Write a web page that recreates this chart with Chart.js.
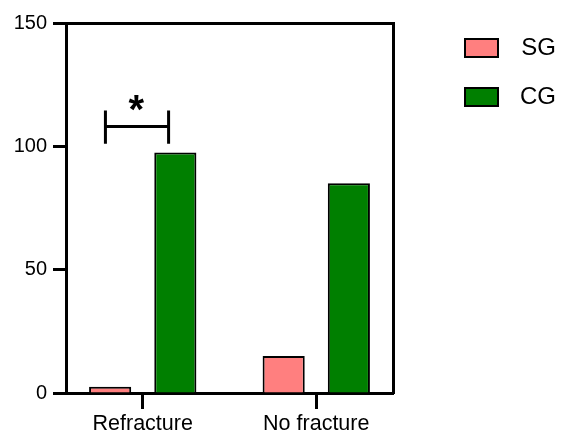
<!DOCTYPE html>
<html><head><meta charset="utf-8">
<script src="https://cdn.jsdelivr.net/npm/chart.js@4.4.1/dist/chart.umd.min.js"></script>
<style>html,body{margin:0;padding:0;background:#fff}#wrap{width:561px;height:436px}</style>
</head><body><div id="wrap"><canvas id="c" width="561" height="436"></canvas></div>
<script>
const categories = ['Refracture', 'No fracture'];
const categoryPositions = [0, 1];
const seriesNames = ['SG', 'CG'];
const sgValues = [2.5, 15];
const cgValues = [97.5, 85];
const yTicks = [0, 50, 100, 150];
// significance bracket (Refracture: SG vs CG)
const bracketX = [-0.215, 0.149];
const bracketY = 108;
const bracketCapY = [101, 114.5];
const starLabel = '*';
const starPos = [-0.037, 117.5];

const FONT = "'Liberation Sans', Arial, Helvetica, sans-serif";
Chart.defaults.font.family = FONT;
Chart.defaults.color = '#000';

const sigPlugin = {
  id: 'sig',
  afterDatasetsDraw(chart) {
    const {ctx} = chart;
    const x = chart.scales.x, y = chart.scales.y;
    const x1 = x.getPixelForValue(bracketX[0]), x2 = x.getPixelForValue(bracketX[1]);
    const yl = y.getPixelForValue(bracketY);
    const yt = y.getPixelForValue(bracketCapY[1]), yb = y.getPixelForValue(bracketCapY[0]);
    ctx.save();
    ctx.strokeStyle = '#000'; ctx.lineWidth = 3; ctx.lineCap = 'butt';
    ctx.beginPath();
    ctx.moveTo(x1, yt); ctx.lineTo(x1, yb);
    ctx.moveTo(x2, yt); ctx.lineTo(x2, yb);
    ctx.moveTo(x1, yl); ctx.lineTo(x2, yl);
    ctx.stroke();
    ctx.font = 'bold 40px ' + FONT;
    ctx.fillStyle = '#000';
    ctx.textAlign = 'center'; ctx.textBaseline = 'alphabetic';
    const m = ctx.measureText(starLabel);
    const cx = x.getPixelForValue(starPos[0]), cy = y.getPixelForValue(starPos[1]);
    const by = cy + (m.actualBoundingBoxAscent - m.actualBoundingBoxDescent) / 2;
    ctx.fillText(starLabel, cx, by);
    ctx.restore();
  }
};

const toPoints = vals => categoryPositions.map((p, i) => ({x: p, y: vals[i]}));

new Chart(document.getElementById('c'), {
  type: 'bar',
  data: {
    datasets: [
      { label: seriesNames[0], data: toPoints(sgValues), backgroundColor: '#FF7F7F', borderColor: '#000', borderWidth: 2,
        categoryPercentage: 0.7514, barPercentage: 0.6462, xAxisID: 'x', yAxisID: 'y' },
      { label: seriesNames[1], data: toPoints(cgValues), backgroundColor: '#007F00', borderColor: '#000', borderWidth: 2,
        categoryPercentage: 0.7514, barPercentage: 0.6462, xAxisID: 'x', yAxisID: 'y' }
    ]
  },
  options: {
    responsive: false,
    animation: false,
    devicePixelRatio: 1,
    layout: { padding: { top: 11, right: 5, left: 0, bottom: 0 } },
    plugins: {
      tooltip: { enabled: false },
      legend: {
        position: 'right', align: 'start', maxWidth: 120,
        labels: { boxWidth: 33, boxHeight: 18, padding: 25, font: { size: 24 }, color: '#000', textAlign: 'right' }
      }
    },
    scales: {
      x: {
        type: 'linear', position: 'bottom', offset: false,
        min: -0.4422, max: 1.4422,
        afterBuildTicks: s => { s.ticks = categoryPositions.map(v => ({ value: v })); },
        afterFit: s => { s.height = 43; },
        grid: { display: true, drawOnChartArea: false, drawTicks: true, tickLength: 16, tickWidth: 3, tickColor: '#000', offset: false },
        border: { display: true, color: '#000', width: 3 },
        ticks: { callback: (v, i) => categories[i], font: { size: 21.5 }, padding: 2, color: '#000', autoSkip: false, maxRotation: 0 }
      },
      x2: {
        type: 'linear', position: 'top',
        afterFit: s => { s.height = 12; },
        grid: { display: false, drawTicks: false },
        ticks: { display: false },
        border: { display: true, color: '#000', width: 3 }
      },
      y: {
        type: 'linear', position: 'left', min: 0, max: 150,
        afterBuildTicks: s => { s.ticks = yTicks.map(v => ({ value: v })); },
        afterFit: s => { s.width = 66; },
        grid: { drawOnChartArea: false, drawTicks: true, tickLength: 13, tickWidth: 3, tickColor: '#000' },
        border: { display: true, color: '#000', width: 3 },
        ticks: { font: { size: 20 }, padding: 6, color: '#000' }
      },
      y2: {
        type: 'linear', position: 'right',
        afterFit: s => { s.width = 47; },
        grid: { display: false, drawTicks: false },
        ticks: { display: false },
        border: { display: true, color: '#000', width: 3 }
      }
    }
  },
  plugins: [sigPlugin]
});
</script>
</body></html>
